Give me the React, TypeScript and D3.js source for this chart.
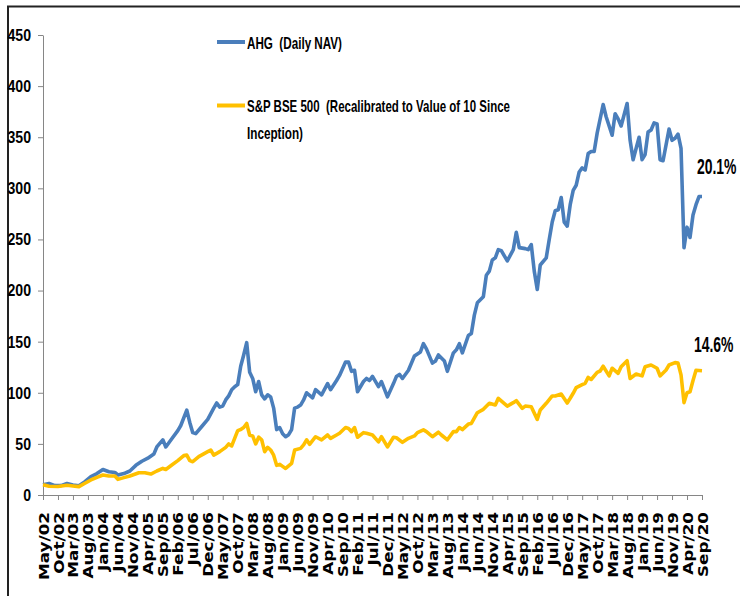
import React, { useRef, useEffect } from 'react';
import * as d3 from 'd3';

// month offsets are counted from May 2002 (0) to Sep 2020 (220)
const ahgMonths = [0, 2, 4, 6, 8, 10, 12, 14, 16, 18, 20, 22, 24, 25, 27, 29, 31, 33, 35, 37, 38, 40, 41, 43, 45, 46, 48, 49, 50, 51, 53, 55, 57, 58, 59, 60, 61, 62, 63, 64, 65, 66, 67, 68, 69, 70, 71, 72, 73, 74, 75, 76, 77, 78, 79, 80, 81, 82, 83, 84, 85, 86, 87, 88, 90, 91, 93, 95, 96, 98, 99, 101, 102, 103, 104, 105, 107, 108, 109, 110, 112, 113, 115, 117, 118, 119, 120, 122, 124, 126, 127, 128, 130, 131, 132, 134, 135, 137, 138, 139, 140, 142, 143, 144, 145, 147, 148, 149, 150, 151, 152, 153, 155, 157, 158, 159, 161, 162, 163, 164, 165, 166, 168, 169, 170, 171, 172, 173, 174, 175, 176, 177, 178, 179, 180, 181, 182, 183, 184, 185, 187, 188, 190, 191, 192, 193, 194, 195, 196, 197, 199, 200, 201, 202, 203, 204, 205, 206, 207, 209, 210, 211, 212, 213, 214, 215, 216, 217, 218, 219, 220];
const ahgNav = [10, 11.2, 9.2, 9.2, 11.2, 9.8, 9.1, 13, 18, 21, 25, 22.8, 22, 19.6, 21, 23.5, 29, 33, 36, 40, 47, 54, 47, 55, 63, 68, 83, 71, 61, 60, 67, 74, 85, 90, 86, 87, 93, 97, 103, 106, 108, 126, 137, 149, 120, 114, 101, 111, 98, 94, 98, 96, 85, 64, 66, 60, 57, 59, 64, 85, 86, 88, 93, 100, 95, 103, 98, 109, 103, 112, 117, 130, 130, 121, 122, 101, 111, 114, 112, 116, 106, 111, 96, 109, 116, 118, 114, 122, 136, 140, 148, 143, 129, 131, 137, 131, 121, 139, 142, 148, 139, 156, 158, 176, 188, 194, 215, 219, 230, 232, 240, 239, 229, 240, 257, 242, 241, 240, 245, 219, 201, 225, 232, 250, 267, 278, 279, 291, 267, 263, 284, 298, 303, 316, 320, 318, 334, 336, 336, 354, 382, 370, 352, 373, 368, 361, 372, 383, 347, 328, 350, 328, 333, 355, 357, 364, 363, 328, 327, 358, 347, 349, 353, 339, 242, 262, 252, 274, 284, 292, 292];

const bseMonths = [0, 2, 5, 8, 10, 12, 14, 16, 18, 20, 22, 24, 25, 27, 29, 32, 34, 36, 38, 40, 41, 43, 45, 47, 48, 49, 50, 52, 55, 56, 57, 59, 61, 62, 63, 65, 66, 67, 68, 69, 70, 71, 72, 73, 74, 75, 76, 77, 78, 79, 80, 81, 83, 84, 86, 87, 88, 89, 91, 93, 95, 96, 98, 99, 101, 102, 103, 104, 105, 107, 108, 110, 112, 113, 115, 117, 118, 120, 122, 124, 125, 127, 128, 130, 132, 133, 135, 137, 138, 139, 140, 142, 143, 145, 147, 149, 151, 152, 155, 157, 158, 160, 161, 163, 165, 166, 168, 170, 171, 173, 175, 176, 177, 178, 180, 181, 182, 183, 185, 186, 187, 189, 190, 192, 193, 195, 196, 198, 200, 201, 203, 205, 206, 208, 209, 211, 212, 213, 214, 215, 216, 217, 218, 220];
const bseValues = [10, 8.5, 8.3, 9.5, 8.8, 8.2, 11.5, 14.7, 17.3, 19.6, 18.6, 18.6, 15.3, 17, 18.6, 21.8, 21.8, 20.5, 23.5, 26, 25, 29.3, 33.6, 38.5, 39, 33.6, 32.6, 37.5, 42.4, 44, 39, 42.4, 46.6, 50, 48, 63, 64, 66, 70, 58.5, 57.8, 50, 56.5, 54, 42.4, 46.6, 44, 39, 29, 30, 28, 26, 31, 44, 45.6, 49, 54, 49.6, 57, 54, 58.7, 55.4, 58.7, 60.4, 66, 65, 62, 66, 56.5, 61, 60.4, 58.7, 52, 57, 47, 56.5, 56, 51.5, 55.4, 57.8, 61, 63.7, 62, 57, 61.4, 58.7, 54, 62, 62, 66, 64, 69.4, 70, 80.5, 83.8, 89.7, 88, 94.6, 87, 90.3, 92.3, 84.8, 87, 86.4, 74, 83.2, 89.7, 96.9, 96.9, 98.8, 90, 94.6, 99.5, 105, 108, 109.3, 115, 113, 120, 121.3, 126, 116.5, 124, 119, 125.5, 131.4, 114, 118.4, 116.5, 125.5, 127.2, 124, 116.5, 122.3, 127.2, 129.5, 129, 117.5, 90.4, 100, 101, 112, 122, 121.6];

const tickLabels = ['May/02', 'Oct/02', 'Mar/03', 'Aug/03', 'Jan/04', 'Jun/04', 'Nov/04', 'Apr/05', 'Sep/05', 'Feb/06', 'Jul/06', 'Dec/06', 'May/07', 'Oct/07', 'Mar/08', 'Aug/08', 'Jan/09', 'Jun/09', 'Nov/09', 'Apr/10', 'Sep/10', 'Feb/11', 'Jul/11', 'Dec/11', 'May/12', 'Oct/12', 'Mar/13', 'Aug/13', 'Jan/14', 'Jun/14', 'Nov/14', 'Apr/15', 'Sep/15', 'Feb/16', 'Jul/16', 'Dec/16', 'May/17', 'Oct/17', 'Mar/18', 'Aug/18', 'Jan/19', 'Jun/19', 'Nov/19', 'Apr/20', 'Sep/20'];
const yTicks = [0, 50, 100, 150, 200, 250, 300, 350, 400, 450];

const seriesNames = ['AHG  (Daily NAV)', 'S&P BSE 500  (Recalibrated to Value of 10 Since', 'Inception)'];
const cagrLabels = ['20.1%', '14.6%'];

const BLUE = '#4a7ebb';
const GOLD = '#ffc000';
const SANS = '"Liberation Sans", Arial, sans-serif';

const App: React.FC = () => {
  const svgRef = useRef<SVGSVGElement>(null);

  useEffect(() => {
    if (!svgRef.current) return;
    const svg = d3.select(svgRef.current);
    svg.selectAll('*').remove();

    const x = d3.scaleLinear().domain([0, 220]).range([43, 702]);
    const y = d3.scaleLinear().domain([0, 450]).range([495, 35]);

    // outer frame (only top and left edges fall inside the picture)
    svg.append('rect')
      .attr('x', 8).attr('y', 6.5)
      .attr('width', 760).attr('height', 620)
      .attr('fill', 'none').attr('stroke', '#222').attr('stroke-width', 2);

    // squeeze a text horizontally to a given width
    const fitText = (sel: d3.Selection<SVGTextElement, unknown, null, undefined>, tx: number, ty: number, width: number, sy = 1) => {
      const w = sel.node()!.getComputedTextLength() || width;
      sel.attr('transform', `translate(${tx},${ty}) scale(${width / w},${sy})`);
    };

    // Y axis
    const yAxis = svg.append('g')
      .attr('transform', 'translate(43,0)')
      .call(d3.axisLeft(y).tickValues(yTicks).tickSize(5).tickPadding(7).tickSizeOuter(0));
    yAxis.select('.domain').attr('stroke', '#868686');
    yAxis.selectAll('line').attr('stroke', '#868686');
    yAxis.selectAll<SVGTextElement, number>('text')
      .attr('x', 0)
      .attr('transform', 'translate(-12,0) scale(0.83,1)')
      .attr('fill', '#000')
      .style('font-family', SANS)
      .style('font-weight', 'bold')
      .style('font-size', '17px');

    // X axis
    const xAxis = svg.append('g')
      .attr('transform', 'translate(0,495)')
      .call(d3.axisBottom(x)
        .tickValues(d3.range(0, 221, 5))
        .tickFormat((d, i) => tickLabels[i])
        .tickSize(5).tickSizeOuter(0));
    xAxis.select('.domain').attr('stroke', '#868686');
    xAxis.selectAll('line').attr('stroke', '#868686');
    const xText = xAxis.selectAll<SVGTextElement, number>('text')
      .attr('x', 0).attr('y', 0).attr('dy', null)
      .attr('dominant-baseline', 'central')
      .style('text-anchor', 'end')
      .attr('fill', '#000')
      .style('font-family', '"DejaVu Sans", sans-serif')
      .style('font-weight', 'bold')
      .style('font-size', '14px');
    const firstLen = xText.node()!.getComputedTextLength() || 57;
    const stretch = 68 / firstLen;
    xText.attr('transform', `translate(0.5,17) rotate(-90) scale(${stretch},1)`);

    // Lines
    const line = d3.line<[number, number]>()
      .x(d => x(d[0]))
      .y(d => y(d[1]));

    const ahg = ahgMonths.map((m, i) => [m, ahgNav[i]] as [number, number]);
    const bse = bseMonths.map((m, i) => [m, bseValues[i]] as [number, number]);

    svg.append('path')
      .datum(ahg)
      .attr('d', line)
      .attr('fill', 'none')
      .attr('stroke', BLUE)
      .attr('stroke-width', 3.6)
      .attr('stroke-linejoin', 'round');

    svg.append('path')
      .datum(bse)
      .attr('d', line)
      .attr('fill', 'none')
      .attr('stroke', GOLD)
      .attr('stroke-width', 3.6)
      .attr('stroke-linejoin', 'round');

    // Legend
    const legend = svg.append('g');
    [{ color: BLUE, y: 42 }, { color: GOLD, y: 105.5 }].forEach(r => {
      legend.append('line')
        .attr('x1', 217).attr('x2', 245)
        .attr('y1', r.y).attr('y2', r.y)
        .attr('stroke', r.color).attr('stroke-width', 4);
    });
    [
      { text: seriesNames[0], base: 49, len: 95 },
      { text: seriesNames[1], base: 112, len: 263 },
      { text: seriesNames[2], base: 138.5, len: 56 },
    ].forEach(t => {
      const el = legend.append('text')
        .style('white-space', 'pre')
        .style('font-family', SANS)
        .style('font-weight', 'bold')
        .style('font-size', '16.3px')
        .attr('fill', '#000')
        .text(t.text);
      fitText(el, 247, t.base, t.len);
    });

    // CAGR annotations
    [
      { text: cagrLabels[0], x: 697, base: 174 },
      { text: cagrLabels[1], x: 694, base: 352 },
    ].forEach(n => {
      const el = svg.append('text')
        .style('font-family', SANS)
        .style('font-weight', 'bold')
        .style('font-size', '22px')
        .attr('fill', '#000')
        .text(n.text);
      fitText(el, n.x, n.base, 39.5);
    });
  }, []);

  return (
    <svg
      ref={svgRef}
      width={740}
      height={596}
      style={{ position: 'absolute', left: 0, top: 0, display: 'block', background: '#fff' }}
    />
  );
};

export default App;
